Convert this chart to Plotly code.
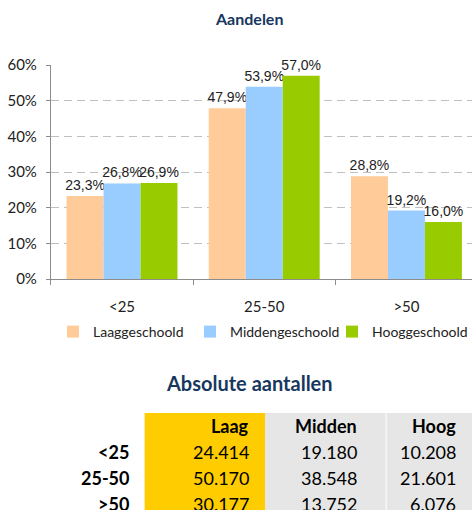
import plotly.graph_objects as go

W, H = 473, 510

# Aandelen (fracties) per leeftijdsgroep
categories = ["<25", "25-50", ">50"]
series_names = ["Laaggeschoold", "Middengeschoold", "Hooggeschoold"]
pct_laag = [0.233, 0.479, 0.288]
pct_midden = [0.268, 0.539, 0.192]
pct_hoog = [0.269, 0.570, 0.160]

# Absolute aantallen
table_columns = ["Laag", "Midden", "Hoog"]
abs_laag = [24414, 50170, 30177]
abs_midden = [19180, 38548, 13752]
abs_hoog = [10208, 21601, 6076]

COLORS = ["#FFCC99", "#99CCFF", "#99CC00"]
TABLE_FILLS = ["#FFCC00", "#E6E6E6", "#E6E6E6"]
TITLE_COLOR = "#17375E"
FONT_TEXT = "#222222"
AXIS_COLOR = "#8C8C8C"
FONT_FAMILY = "Lato"

# linkerrand (px) van elk legenda-item
LEGEND_LEFT = [53, 190, 333]
LEGEND_KEYS = ["legend", "legend2", "legend3"]


def px_x(p):
    return p / W


def px_y(p):
    return 1 - p / H


def nl(v):
    return f"{v:,}".replace(",", ".")


fig = go.Figure()

for name, vals, col, lg in zip(series_names, [pct_laag, pct_midden, pct_hoog], COLORS, LEGEND_KEYS):
    fig.add_trace(go.Bar(
        x=categories,
        y=vals,
        name=name,
        legend=lg,
        showlegend=True,
        marker=dict(color=col, line=dict(width=0)),
        texttemplate="%{y:.1%}",
        textposition="outside",
        textfont=dict(family="Liberation Sans", size=14, color=FONT_TEXT),
        constraintext="none",
        cliponaxis=False,
        hoverinfo="skip",
    ))

# tabel: celvlakken als heatmap op eigen assen
col_idx = [1, 2, 3]
row_idx = [0, 1, 2, 3]
fig.add_trace(go.Heatmap(
    x=col_idx,
    y=row_idx,
    z=[[0, 1, 2] for _ in row_idx],
    zmin=0, zmax=2,
    colorscale=[[0, TABLE_FILLS[0]], [0.5, TABLE_FILLS[1]], [1, TABLE_FILLS[2]]],
    showscale=False,
    hoverinfo="skip",
    xaxis="x2",
    yaxis="y2",
    showlegend=False,
))

annotations = [
    dict(text="<b>Aandelen</b>", x=px_x(250), y=px_y(19), xref="paper", yref="paper",
         xanchor="center", yanchor="middle",
         showarrow=False, font=dict(family=FONT_FAMILY, size=16, color=TITLE_COLOR)),
    dict(text="<b>Absolute aantallen</b>", x=px_x(250), y=px_y(383), xref="paper", yref="paper",
         xanchor="center", yanchor="middle",
         showarrow=False, font=dict(family=FONT_FAMILY, size=20, color=TITLE_COLOR)),
]

# rechts uitlijnen: verschuiving (px) van celmidden naar tekstrand
XSHIFT = [47, 46, 33, 11]
cell_font = dict(family=FONT_FAMILY, size=18, color="#000000")

for j, head in enumerate(table_columns):
    annotations.append(dict(text=f"<b>{head}</b>", x=col_idx[j], y=row_idx[0], xref="x2", yref="y2",
                            xanchor="right", yanchor="middle", xshift=XSHIFT[j + 1],
                            showarrow=False, font=cell_font))

for i, cat in enumerate(categories):
    label = cat.replace("<", "&lt;").replace(">", "&gt;")
    annotations.append(dict(text=f"<b>{label}</b>", x=0, y=row_idx[i + 1], xref="x2", yref="y2",
                            xanchor="right", yanchor="middle", xshift=XSHIFT[0],
                            showarrow=False, font=cell_font))
    for j, vals in enumerate([abs_laag, abs_midden, abs_hoog]):
        annotations.append(dict(text=nl(vals[i]), x=col_idx[j], y=row_idx[i + 1],
                                xref="x2", yref="y2", xanchor="right", yanchor="middle",
                                xshift=XSHIFT[j + 1], showarrow=False, font=cell_font))

legend_style = dict(
    orientation="h",
    xanchor="left",
    y=px_y(332),
    yanchor="middle",
    font=dict(family=FONT_FAMILY, size=14, color=FONT_TEXT),
    bgcolor="rgba(0,0,0,0)",
)

fig.update_layout(
    width=W,
    height=H,
    autosize=False,
    showlegend=True,
    margin=dict(l=0, r=0, t=0, b=0, pad=0),
    paper_bgcolor="white",
    plot_bgcolor="white",
    separators=",.",
    barmode="group",
    bargap=0.22,
    bargroupgap=0,
    font=dict(family=FONT_FAMILY, size=15, color=FONT_TEXT),
    xaxis=dict(
        domain=[px_x(51), 1],
        type="category",
        range=[-0.5, 2.461],
        automargin=False,
        tickson="boundaries",
        ticks="outside",
        ticklen=5,
        tickcolor=AXIS_COLOR,
        showline=True,
        linecolor=AXIS_COLOR,
        showgrid=False,
        ticklabelstandoff=14,
        tickfont=dict(family=FONT_FAMILY, size=15, color=FONT_TEXT),
    ),
    yaxis=dict(
        domain=[px_y(279), px_y(65)],
        range=[0, 0.6],
        automargin=False,
        dtick=0.1,
        tickformat=".0%",
        showgrid=True,
        gridcolor="#C0C0C0",
        griddash="8px,5px",
        zeroline=False,
        showline=True,
        linecolor=AXIS_COLOR,
        ticks="outside",
        ticklen=4,
        tickcolor=AXIS_COLOR,
        ticklabelstandoff=6,
        tickfont=dict(family=FONT_FAMILY, size=15, color=FONT_TEXT),
    ),
    xaxis2=dict(
        domain=[0, 1],
        range=[-0.698, 3.211],
        anchor="y2",
        automargin=False,
        visible=False,
        fixedrange=True,
    ),
    yaxis2=dict(
        domain=[0, px_y(412)],
        range=[3.231, -0.538],
        anchor="x2",
        automargin=False,
        visible=False,
        fixedrange=True,
    ),
    legend=dict(x=px_x(LEGEND_LEFT[0]), **legend_style),
    legend2=dict(x=px_x(LEGEND_LEFT[1]), **legend_style),
    legend3=dict(x=px_x(LEGEND_LEFT[2]), **legend_style),
    shapes=[
        dict(type="line", xref="x2", yref="y2", x0=2.5, x1=2.5, y0=-0.538, y1=3.231,
             line=dict(color="white", width=1), layer="above"),
    ],
    annotations=annotations,
)

fig.write_html(
    "out.html",
    config={"displayModeBar": False},
    post_script="document.body.style.margin='0';",
)
